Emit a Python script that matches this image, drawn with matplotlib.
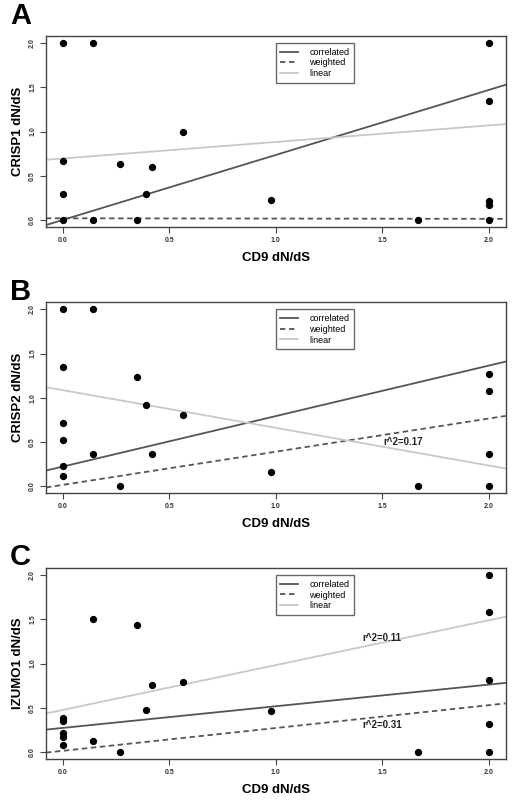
import matplotlib

matplotlib.use("Agg")
import matplotlib.pyplot as plt

plt.rcParams["font.family"] = ["Liberation Sans", "DejaVu Sans"]

# CD9 dN/dS (x) against each partner's dN/dS (y)
cd9 = [0.0, 0.14, 0.0, 0.0, 0.0, 0.14, 0.27, 0.35, 0.39, 0.42, 0.565, 0.976, 1.67, 2.0, 2.0, 2.0, 2.0, 2.0]
crisp1 = [2.0, 2.0, 0.67, 0.29, 0.0, 0.0, 0.63, 0.0, 0.29, 0.6, 1.0, 0.23, 0.0, 2.0, 1.34, 0.21, 0.17, 0.0]

cd9_b = [0.0, 0.14, 0.0, 0.0, 0.0, 0.0, 0.0, 0.14, 0.27, 0.35, 0.39, 0.42, 0.565, 0.976, 1.67, 2.0, 2.0, 2.0, 2.0]
crisp2 = [2.0, 2.0, 1.35, 0.71, 0.52, 0.23, 0.11, 0.36, 0.0, 1.24, 0.92, 0.36, 0.81, 0.165, 0.0, 1.27, 1.08, 0.36, 0.0]

cd9_c = [0.0, 0.0, 0.0, 0.0, 0.0, 0.14, 0.14, 0.27, 0.35, 0.39, 0.42, 0.565, 0.976, 1.67, 2.0, 2.0, 2.0, 2.0, 2.0]
izumo1 = [0.38, 0.345, 0.22, 0.165, 0.076, 1.51, 0.126, 0.0, 1.44, 0.477, 0.76, 0.786, 0.458, 0.0, 2.0, 1.58, 0.81, 0.317, 0.0]

# fitted lines: (intercept, slope) for correlated / weighted / linear
fits_a = [(0.0, 0.735), (0.018, -0.003), (0.695, 0.187)]
fits_b = [(0.222, 0.571), (0.015, 0.375), (1.086, -0.426)]
fits_c = [(0.272, 0.245), (0.013, 0.258), (0.476, 0.507)]

fit_names = ["correlated", "weighted", "linear"]
fit_colors = ["#555555", "#555555", "#c8c8c8"]
fit_styles = ["-", (0, (3, 2)), "-"]

# letter, x, y, fits, ylabel, r^2 notes, axes bottom, letter y
panels = [
    ("A", cd9, crisp1, fits_a, "CRISP1 dN/dS", [], 0.717, 0.980),
    ("B", cd9_b, crisp2, fits_b, "CRISP2 dN/dS", [(1.6, 0.5, "r^2=0.17")], 0.385, 0.636),
    ("C", cd9_c, izumo1, fits_c, "IZUMO1 dN/dS",
     [(1.5, 1.29, "r^2=0.11"), (1.5, 0.30, "r^2=0.31")], 0.0536, 0.305),
]

fig = plt.figure(figsize=(5.16, 8.02), dpi=100)
ticks = [0.0, 0.5, 1.0, 1.5, 2.0]

for letter, xs, ys, fits, ylabel, notes, bottom, ly in panels:
    ax = fig.add_axes([0.089, bottom, 0.891, 0.238])
    ax.set_xlim(-0.08, 2.08)
    ax.set_ylim(-0.08, 2.08)
    for (b, m), name, c, ls in zip(fits, fit_names, fit_colors, fit_styles):
        ax.axline((0, b), slope=m, color=c, ls=ls, lw=1.3, label=name)
    ax.scatter(xs, ys, s=18, color="black", zorder=3)
    for tx, ty, s in notes:
        ax.text(tx, ty, s, ha="center", va="center", fontsize=7, fontweight="bold", color="#222")
    ax.set_xticks(ticks)
    ax.set_yticks(ticks)
    ax.set_xticklabels([f"{t:.1f}" for t in ticks], fontsize=5, fontweight="bold", color="#333")
    ax.set_yticklabels([f"{t:.1f}" for t in ticks], fontsize=5, fontweight="bold", color="#333",
                       rotation=90, va="center")
    ax.tick_params(length=4, width=0.8, color="#444", pad=3)
    for sp in ax.spines.values():
        sp.set_color("#444")
        sp.set_linewidth(1.0)
    ax.set_xlabel("CD9 dN/dS", fontsize=9.5, fontweight="bold", labelpad=6)
    ax.set_ylabel(ylabel, fontsize=9.5, fontweight="bold", labelpad=4)
    leg = ax.legend(loc="upper left", bbox_to_anchor=(1.0, 2.0), bbox_transform=ax.transData,
                    fontsize=6.5, frameon=True, fancybox=False, handlelength=2.0,
                    borderpad=0.5, labelspacing=0.2, handletextpad=1.2, borderaxespad=0)
    leg.get_frame().set_edgecolor("#444")
    leg.get_frame().set_linewidth(1.0)
    fig.text(0.019, ly, letter, fontsize=21, fontweight="bold", va="center")

fig.savefig("out.png", dpi=100)
